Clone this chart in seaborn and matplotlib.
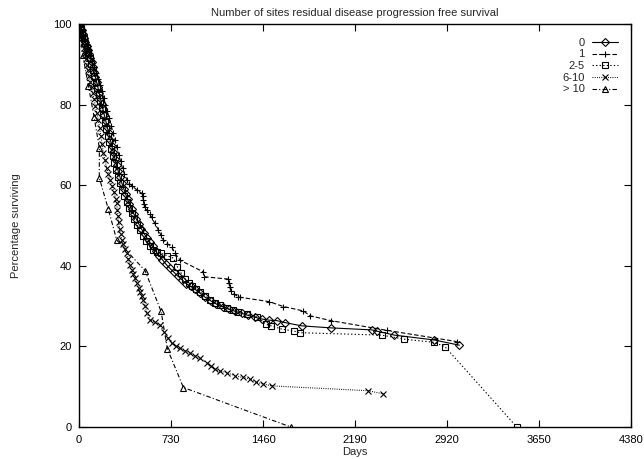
import pandas as pd
import numpy as np
import matplotlib
matplotlib.use("Agg")
import matplotlib.pyplot as plt
import seaborn as sns

# groups (number of residual disease sites)
groups = ["0", "1", "2-5", "6-10", "> 10"]

days_0 = [0, 10, 20, 30, 40, 50, 60, 70, 80, 90, 100, 110, 120, 130, 140, 150, 160, 170, 180, 190, 200,
          212, 224, 236, 248, 260, 272, 285, 298, 311, 325, 340, 355, 370, 385, 400,
          418, 436, 455, 474, 495, 515, 537, 560, 585, 610, 636, 662, 690, 720, 750, 782, 815, 850, 885, 920, 960, 1000,
          1045, 1090, 1140, 1190, 1240, 1290, 1340, 1400, 1450, 1510, 1569, 1635,
          1767, 1997, 2322, 2362, 2502, 2817, 3018]
surv_0 = [100, 99.2, 98.4, 97.5, 96.6, 95.6, 94.6, 93.6, 92.6, 91.6, 90.5, 89.3, 88.1, 86.9, 85.6, 84.3, 82.9, 81.6, 80.2, 78.9, 77.5,
          76.0, 74.4, 72.9, 71.3, 69.8, 68.2, 66.6, 65.0, 63.5, 62.0, 60.5, 59.1, 57.8, 56.5, 55.3,
          54.0, 52.8, 51.6, 50.4, 49.2, 48.1, 47.0, 45.9, 44.8, 43.6, 42.5, 41.5, 40.4, 39.4, 38.5, 37.5, 36.6, 35.6, 34.9, 34.2, 33.2, 32.2,
          31.3, 30.5, 29.8, 29.2, 28.7, 28.2, 27.7, 27.2, 26.8, 26.5, 26.4, 25.9,
          25.1, 24.6, 24.1, 23.8, 22.8, 21.6, 20.3]

days_1 = [0, 15, 30, 45, 60, 75, 90, 105, 120, 135, 150, 165, 180, 195, 210, 225, 240, 255, 270, 285, 300, 315, 330, 345, 360,
          380, 400, 418, 460, 497,
          505, 510, 515, 520, 537, 560, 577, 600, 630, 650, 669, 700, 735, 760, 801,
          986, 990, 1185, 1190, 1195, 1205, 1230, 1264, 1277,
          1510, 1621, 1780, 1833, 1997, 2440, 2997]
surv_1 = [100, 98.8, 97.6, 96.3, 95.0, 93.7, 92.3, 90.8, 89.4, 87.9, 86.4, 84.9, 83.3, 81.7, 80.0, 78.3, 76.6, 74.8, 73.0, 71.2, 69.4, 67.6, 65.9, 64.2, 62.8,
          61.3, 60.4, 59.9, 58.8, 58.0,
          57.2, 56.3, 55.4, 54.6, 53.8, 52.9, 52.0, 50.6, 48.9, 47.6, 46.4, 45.5, 44.7, 43.2, 41.4,
          38.5, 37.3, 36.7, 35.7, 34.7, 33.8, 33.0, 32.3, 32.2,
          31.1, 29.9, 28.8, 27.6, 26.4, 24.0, 21.2]

days_2 = [0, 12, 24, 36, 48, 60, 72, 84, 96, 108, 120, 132, 144, 156, 168, 180, 192, 204, 216, 228, 240,
          253, 266, 280, 295, 310, 326, 343, 360, 378, 397, 417, 438, 460, 483, 507, 532, 560, 590, 620, 651,
          700, 749, 780, 810, 840, 870, 900, 930, 960, 1000,
          1040, 1080, 1120, 1172, 1225, 1264, 1331, 1410, 1484, 1524, 1608, 1706, 1754,
          2402, 2579, 2817, 2904, 3473]
surv_2 = [100, 98.9, 97.8, 96.6, 95.4, 94.1, 92.8, 91.5, 90.1, 88.7, 87.2, 85.7, 84.1, 82.5, 80.8, 79.1, 77.4, 75.7, 74.0, 72.3, 70.6,
          68.9, 67.2, 65.5, 63.8, 62.1, 60.5, 58.9, 57.4, 55.9, 54.4, 53.0, 51.6, 50.2, 48.8, 47.4, 46.1, 44.9, 44.0, 43.5, 43.1,
          42.5, 41.9, 39.8, 38.2, 36.8, 35.8, 35.0, 34.2, 33.5, 32.6,
          31.6, 30.8, 30.2, 29.5, 29.0, 28.6, 28.0, 27.4, 25.5, 25.1, 24.3, 23.8, 23.4,
          22.8, 21.8, 21.0, 19.9, 0]

days_3 = [0, 8, 16, 24, 32, 40, 48, 56, 64, 72, 80,
          90, 100, 110, 120, 130, 142, 153, 163, 173, 183, 193,
          206, 220, 233, 246, 262, 278, 292, 299, 304, 309, 314,
          322, 330, 339, 350, 363, 378, 392, 405, 418, 430, 445,
          458, 472, 485, 497, 510, 525, 540, 563, 600, 643, 675,
          709, 735, 770, 801, 840, 881, 920, 960, 1013, 1045, 1079,
          1120, 1172, 1238, 1300, 1357, 1404, 1460, 1529, 2296, 2415]
surv_3 = [100, 98.9, 97.8, 96.6, 95.4, 94.1, 92.7, 91.3, 89.9, 88.5, 87.1,
          85.7, 84.4, 82.9, 81.3, 79.6, 77.9, 76.2, 74.3, 72.3, 70.2, 68.0,
          66.2, 64.3, 62.7, 61.3, 59.8, 58.2, 56.5, 55.6, 53.8, 52.3, 50.8,
          49.2, 47.8, 46.4, 45.3, 44.2, 43.1, 41.6, 40.3, 39.0, 38.0, 37.0,
          35.8, 34.6, 33.5, 32.5, 31.5, 30.0, 28.3, 26.6, 26.0, 25.3, 23.6,
          22.0, 20.8, 20.1, 19.5, 18.9, 18.3, 17.6, 17.0, 16.0, 15.1, 14.3,
          13.9, 13.5, 12.7, 12.3, 11.9, 11.1, 10.7, 10.2, 9.0, 8.2]

days_4 = [0, 30, 74, 119, 161, 161, 233, 299, 524, 651, 701, 828, 1680]
surv_4 = [100, 92.3, 84.7, 77.0, 69.3, 61.8, 54.0, 46.4, 38.8, 28.7, 19.4, 9.8, 0]

x_ticks = [0, 730, 1460, 2190, 2920, 3650, 4380]
y_ticks = [0, 20, 40, 60, 80, 100]

#styles
line_styles = {"0": "-", "1": (0, (4, 2)), "2-5": (0, (1.2, 2)),
               "6-10": (0, (0.8, 1.2)), "> 10": (0, (4, 2, 1, 2))}
markers = {"0": "D", "1": "+", "2-5": "s", "6-10": "x", "> 10": "^"}
marker_sizes = {"0": 3.6, "1": 5.0, "2-5": 4.2, "6-10": 4.6, "> 10": 4.6}

frames = []
for g, d, s in zip(groups, [days_0, days_1, days_2, days_3, days_4],
                   [surv_0, surv_1, surv_2, surv_3, surv_4]):
    frames.append(pd.DataFrame({"days": d, "surv": s, "group": g}))
df = pd.concat(frames, ignore_index=True)

sns.set_style("ticks")
plt.rcParams["font.family"] = ["Liberation Sans", "DejaVu Sans"]
plt.rcParams["font.size"] = 8

fig, ax = plt.subplots(figsize=(6.44, 4.59), dpi=100)
fig.subplots_adjust(left=0.1227, right=0.980, bottom=0.0697, top=0.9477)

for g in groups:
    sub = df[df["group"] == g]
    sns.lineplot(data=sub, x="days", y="surv", ax=ax, estimator=None, sort=False,
                 color="black", linewidth=0.8, linestyle=line_styles[g],
                 marker=markers[g], markersize=marker_sizes[g],
                 markerfacecolor="none", markeredgecolor="black", markeredgewidth=0.8,
                 label=g)

ax.set_xlim(0, 4380)
ax.set_ylim(0, 100)
ax.set_xticks(x_ticks)
ax.set_yticks(y_ticks)
ax.tick_params(direction="in", top=True, right=True, length=5, width=0.8,
               labelsize=8, colors="black")
ax.tick_params(axis="x", pad=6)
ax.tick_params(axis="y", pad=5)
for sp in ax.spines.values():
    sp.set_linewidth(1.0)
    sp.set_color("black")

ax.set_title("Number of sites residual disease progression free survival",
             fontsize=8, pad=6)
ax.set_xlabel("Days", fontsize=8, labelpad=1)
ax.set_ylabel("Percentage surviving", fontsize=8)
ax.yaxis.set_label_coords(-0.105, 0.5)

leg = ax.legend(loc="upper right", bbox_to_anchor=(0.99, 0.985), frameon=False,
                markerfirst=False, fontsize=8, labelspacing=0.15,
                handlelength=2.3, handletextpad=0.7, borderaxespad=0.3)

plt.savefig("out.png", dpi=100)
plt.close(fig)
